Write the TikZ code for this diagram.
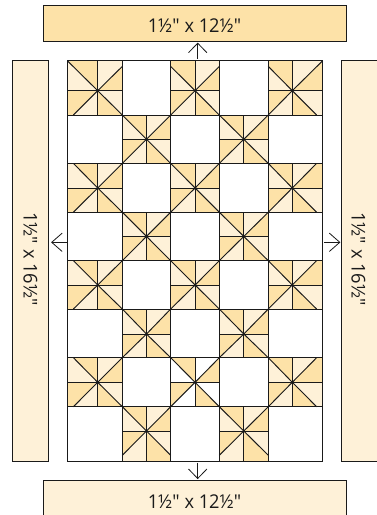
\documentclass[tikz,border=0pt]{standalone}
\usepackage{fontspec}
\usetikzlibrary{calc}
\newfontfamily\qfont[FakeStretch=0.96]{Open Sans}
\definecolor{qlight}{HTML}{FEF1D8}
\definecolor{qdark}{HTML}{FDE2A8}
\definecolor{qline}{HTML}{1A1A1A}
\colorlet{qcur}{qlight}
\tikzset{
  stripbox/.style={draw=qline,line width=0.9pt},
  striplabel/.style={font=\qfont\fontsize{19}{21}\selectfont,text=qline,inner sep=0pt},
  qseam/.style={draw=qline,line width=0.95pt},
  openarrow/.style={draw=qline,line width=0.8pt},
}
% L R T B centre P1 P2 P3 P4
\newcommand{\qblock}[9]{%
  \coordinate (qnw) at (#1,#3);
  \coordinate (qse) at (#2,#4);
  \coordinate (qc) at (#5);
  \coordinate (qa) at (#6);
  \coordinate (qb) at (#7);
  \coordinate (qd) at (#8);
  \coordinate (qe) at (#9);
  \fill[qcur] (qnw) rectangle (qse);
  \fill[qdark] (qc) -- (qa) -- (qa |- qnw) -- (qc |- qnw) -- cycle;
  \fill[qdark] (qc) -- (qb) -- (qse |- qb) -- (qse |- qc) -- cycle;
  \fill[qdark] (qc) -- (qd) -- (qnw |- qd) -- (qnw |- qc) -- cycle;
  \fill[qdark] (qc) -- (qe) -- (qe |- qse) -- (qc |- qse) -- cycle;
  \draw[qseam] (qnw) rectangle (qse);
  \draw[qseam] (qc |- qnw) -- (qc |- qse) (qnw |- qc) -- (qse |- qc);
  \draw[qseam] (qa) -- (qc) -- (qe) (qb) -- (qc) -- (qd);
  \fill[qline] (qc) circle (1.3);
}
\begin{document}
\begin{tikzpicture}[x=1pt,y=-1pt]
\useasboundingbox (0,0) rectangle (377,515);
\clip (0,0) rectangle (377,515);
\fill[white] (0,0) rectangle (377,515);
% border strips
\draw[stripbox,fill=qdark] (43.3,5) rectangle (346.7,41);
\draw[stripbox,fill=qlight] (43.3,480.8) rectangle (346.7,520);
\draw[stripbox,fill=qlight] (12,60.7) rectangle (48.3,461.5);
\draw[stripbox,fill=qlight] (341.7,60.7) rectangle (385,461.5);
\node[striplabel] (toplabel) at (194.5,26) {1½" x 12½"};
\node[striplabel] (bottomlabel) at (194.5,501.7) {1½" x 12½"};
\node[striplabel,rotate=-90] (leftlabel) at (30.3,259) {1½" x 16½"};
\node[striplabel,rotate=-90] (rightlabel) at (358.3,259) {1½" x 16½"};
% quilt centre
\fill[white] (67.3,60.7) rectangle (322.7,461);
% first column
\qblock{67.3}{122.3}{60.7}{115}{97.7,90.7}{67.3,60.7}{122.3,66.4}{73.4,115}{122.3,115}
\qblock{67.3}{122.3}{163.4}{212.2}{97.7,188}{73.4,163.4}{122.3,163.4}{73.4,212.2}{122.3,212.2}
\qblock{67.3}{122.3}{260.7}{309}{97.7,285}{73.4,260.7}{122.3,260.7}{73.4,309}{122.3,309}
\qblock{67.3}{122.3}{357.7}{406.7}{97.7,382.3}{73.4,357.7}{122.3,357.7}{73.4,406.7}{122.3,406.7}
% third column
\qblock{170.7}{219.3}{60.7}{115}{195.1,90.7}{170.7,66.4}{219.3,66.4}{170.7,115}{219.3,115}
\qblock{170.7}{219.3}{163.4}{212.2}{195.1,188}{170.7,163.4}{219.3,163.4}{170.7,212.2}{219.3,212.2}
\qblock{170.7}{219.3}{260.7}{309}{195.1,285}{170.7,260.7}{219.3,260.7}{170.7,309}{219.3,309}
\colorlet{qcur}{white}
\qblock{170.7}{219.3}{357.7}{406.7}{195.1,382.3}{170.7,357.7}{219.3,357.7}{170.7,406.7}{219.3,406.7}
\colorlet{qcur}{qlight}
% fifth column
\qblock{268.3}{322.7}{60.7}{115}{292.3,90.7}{268.3,66.4}{322.7,60.7}{268.3,115}{316.6,115}
\qblock{268.3}{322.7}{163.4}{212.2}{292.3,188}{268.3,163.4}{316.6,163.4}{268.3,212.2}{316.6,212.2}
\qblock{268.3}{322.7}{260.7}{309}{292.3,285}{268.3,260.7}{316.6,260.7}{268.3,309}{316.6,309}
\qblock{268.3}{322.7}{357.7}{406.7}{292.3,382.3}{268.3,357.7}{316.6,357.7}{268.3,406.7}{316.6,406.7}
% second column
\qblock{122.3}{170.7}{115}{163.4}{146.5,139.3}{122.3,115}{170.7,115}{122.3,163.4}{170.7,163.4}
\qblock{122.3}{170.7}{212.2}{260.7}{146.5,236.4}{122.3,212.2}{170.7,212.2}{122.3,260.7}{170.7,260.7}
\qblock{122.3}{170.7}{309}{357.7}{146.5,334}{122.3,309}{170.7,309}{122.3,357.7}{170.7,357.7}
\qblock{122.3}{170.7}{406.7}{461}{146.5,431}{122.3,406.7}{170.7,406.7}{122.3,455.3}{170.7,455.3}
% fourth column
\qblock{219.3}{268.3}{115}{163.4}{243.8,139.3}{219.3,115}{268.3,115}{219.3,163.4}{268.3,163.4}
\qblock{219.3}{268.3}{212.2}{260.7}{243.8,236.4}{219.3,212.2}{268.3,212.2}{219.3,260.7}{268.3,260.7}
\qblock{219.3}{268.3}{309}{357.7}{243.8,334}{219.3,309}{268.3,309}{219.3,357.7}{268.3,357.7}
\qblock{219.3}{268.3}{406.7}{461}{243.8,431}{219.3,406.7}{268.3,406.7}{219.3,455.3}{268.3,455.3}
\draw[qseam] (67.3,60.7) rectangle (322.7,461);
% arrows
\coordinate (upfrom) at (197.7,58.5);
\coordinate (uptip) at (197.7,43.2);
\coordinate (downfrom) at (197.7,462.5);
\coordinate (downtip) at (197.7,478.5);
\coordinate (leftfrom) at (66.5,242.3);
\coordinate (lefttip) at (51.7,242.3);
\coordinate (rightfrom) at (324.2,242.3);
\coordinate (righttip) at (339.8,242.3);
\draw[openarrow] (upfrom) -- (uptip);
\draw[openarrow] ($(uptip)+(-9.2,9.5)$) -- (uptip) -- ($(uptip)+(9.2,9.5)$);
\draw[openarrow] (downfrom) -- (downtip);
\draw[openarrow] ($(downtip)+(-9.2,-9.5)$) -- (downtip) -- ($(downtip)+(9.2,-9.5)$);
\draw[openarrow] (leftfrom) -- (lefttip);
\draw[openarrow] ($(lefttip)+(10.5,-9.2)$) -- (lefttip) -- ($(lefttip)+(10.5,9.2)$);
\draw[openarrow] (rightfrom) -- (righttip);
\draw[openarrow] ($(righttip)+(-10.5,-9.2)$) -- (righttip) -- ($(righttip)+(-10.5,9.2)$);
\end{tikzpicture}
\end{document}
